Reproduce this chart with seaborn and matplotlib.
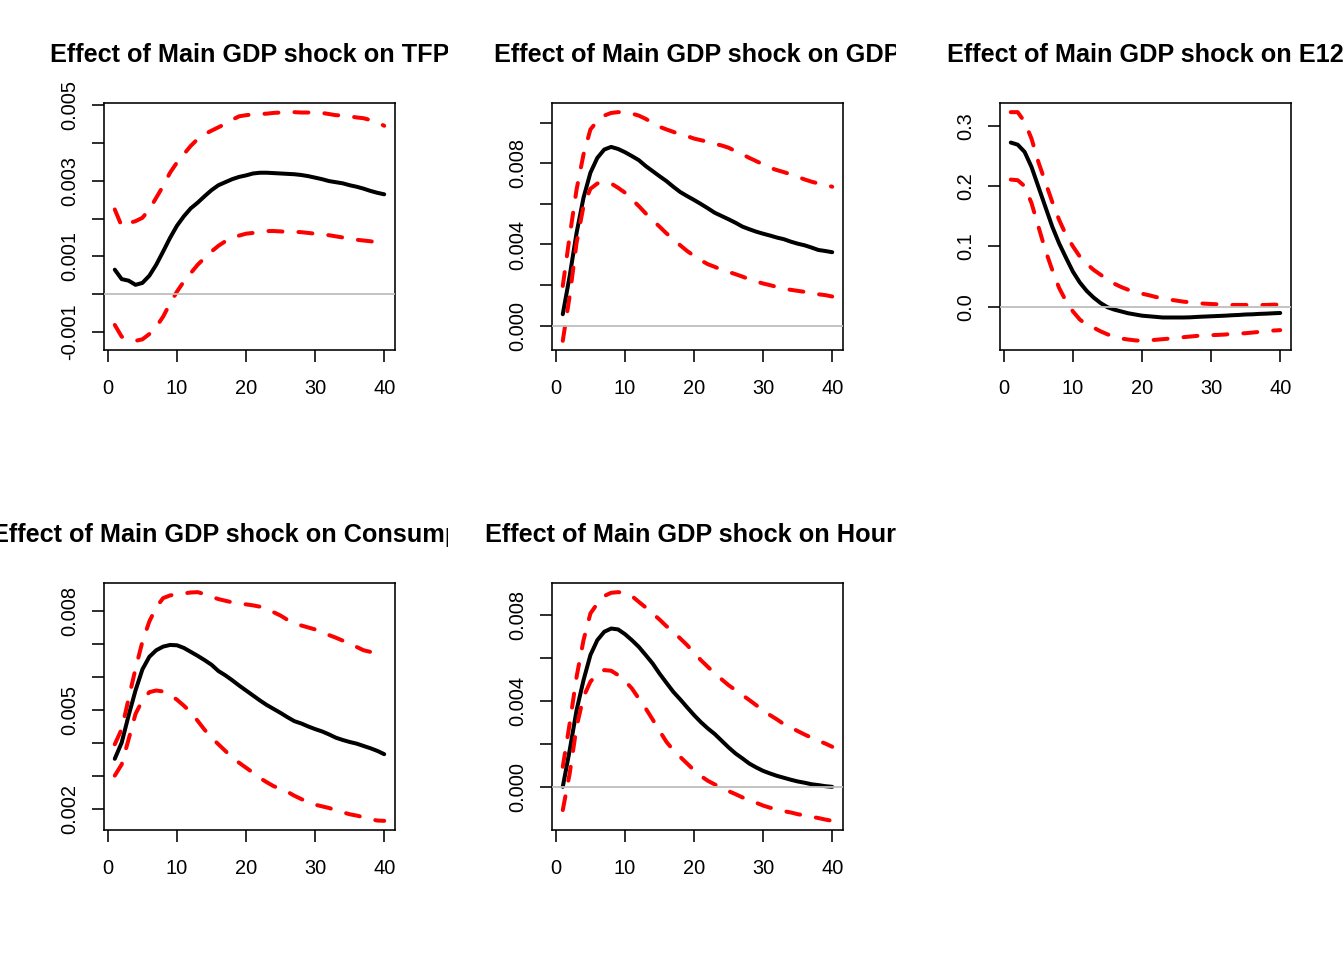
import matplotlib
matplotlib.use("Agg")
import matplotlib.pyplot as plt
from matplotlib.transforms import Bbox, TransformedBbox
import seaborn as sns

horizon = list(range(1, 41))

# TFP
tfp_mean = [0.00065, 0.00040, 0.00036, 0.00025, 0.00030, 0.00049, 0.00078, 0.00113, 0.00149, 0.00181,
            0.00206, 0.00227, 0.00242, 0.00259, 0.00275, 0.00288, 0.00296, 0.00304, 0.00310, 0.00314,
            0.00319, 0.00321, 0.00321, 0.00320, 0.00319, 0.00318, 0.00317, 0.00315, 0.00312, 0.00308,
            0.00304, 0.00299, 0.00296, 0.00293, 0.00288, 0.00284, 0.00279, 0.00273, 0.00268, 0.00264]
tfp_upper = [0.00224, 0.00180, 0.00188, 0.00193, 0.00202, 0.00224, 0.00255, 0.00286, 0.00321, 0.00348,
             0.00370, 0.00392, 0.00410, 0.00423, 0.00432, 0.00441, 0.00450, 0.00461, 0.00470, 0.00473,
             0.00475, 0.00476, 0.00477, 0.00479, 0.00480, 0.00480, 0.00481, 0.00480, 0.00480, 0.00480,
             0.00479, 0.00476, 0.00473, 0.00472, 0.00470, 0.00467, 0.00465, 0.00460, 0.00454, 0.00445]
tfp_lower = [-0.00081, -0.00112, -0.00121, -0.00123, -0.00119, -0.00105, -0.00086, -0.00059, -0.00024, 0.00007,
             0.00034, 0.00056, 0.00078, 0.00096, 0.00113, 0.00128, 0.00140, 0.00149, 0.00155, 0.00160,
             0.00162, 0.00165, 0.00167, 0.00167, 0.00166, 0.00165, 0.00165, 0.00164, 0.00162, 0.00160,
             0.00158, 0.00156, 0.00153, 0.00150, 0.00147, 0.00144, 0.00142, 0.00140, 0.00137, 0.00134]

# GDP
gdp_mean = [0.00057, 0.00245, 0.00458, 0.00630, 0.00753, 0.00826, 0.00867, 0.00880, 0.00870, 0.00854,
            0.00835, 0.00815, 0.00786, 0.00761, 0.00736, 0.00712, 0.00684, 0.00658, 0.00638, 0.00619,
            0.00599, 0.00578, 0.00556, 0.00540, 0.00524, 0.00507, 0.00488, 0.00475, 0.00463, 0.00453,
            0.00444, 0.00434, 0.00426, 0.00414, 0.00404, 0.00396, 0.00385, 0.00373, 0.00368, 0.00362]
gdp_upper = [0.00196, 0.00442, 0.00671, 0.00843, 0.00966, 0.01007, 0.01034, 0.01047, 0.01051, 0.01051,
             0.01044, 0.01034, 0.01018, 0.00998, 0.00979, 0.00966, 0.00954, 0.00941, 0.00933, 0.00921,
             0.00913, 0.00905, 0.00895, 0.00887, 0.00876, 0.00859, 0.00843, 0.00826, 0.00810, 0.00794,
             0.00777, 0.00766, 0.00756, 0.00745, 0.00733, 0.00720, 0.00709, 0.00700, 0.00694, 0.00684]
gdp_lower = [-0.00074, 0.00147, 0.00409, 0.00589, 0.00674, 0.00700, 0.00707, 0.00700, 0.00679, 0.00655,
             0.00622, 0.00589, 0.00553, 0.00520, 0.00488, 0.00455, 0.00426, 0.00396, 0.00368, 0.00344,
             0.00322, 0.00303, 0.00290, 0.00275, 0.00265, 0.00254, 0.00242, 0.00229, 0.00218, 0.00208,
             0.00200, 0.00191, 0.00183, 0.00177, 0.00172, 0.00167, 0.00160, 0.00155, 0.00151, 0.00144]

# E12
e12_mean = [0.2725, 0.269, 0.257, 0.232, 0.199, 0.166, 0.133, 0.105, 0.081, 0.058,
            0.040, 0.026, 0.015, 0.006, -0.001, -0.005, -0.008, -0.011, -0.013, -0.015,
            -0.016, -0.017, -0.018, -0.018, -0.018, -0.018, -0.0177, -0.017, -0.0165, -0.016,
            -0.0155, -0.015, -0.0143, -0.0138, -0.013, -0.0127, -0.012, -0.0116, -0.011, -0.0105]
e12_upper = [0.323, 0.323, 0.307, 0.279, 0.240, 0.207, 0.174, 0.144, 0.119, 0.100,
             0.083, 0.071, 0.061, 0.053, 0.045, 0.038, 0.0325, 0.028, 0.025, 0.0215,
             0.019, 0.016, 0.014, 0.0116, 0.010, 0.0083, 0.0072, 0.006, 0.005, 0.0044,
             0.0039, 0.0033, 0.0028, 0.0028, 0.0028, 0.0028, 0.0028, 0.0028, 0.0033, 0.0033]
e12_lower = [0.211, 0.210, 0.200, 0.172, 0.133, 0.094, 0.061, 0.031, 0.009, -0.008,
             -0.0215, -0.030, -0.035, -0.041, -0.046, -0.050, -0.053, -0.0546, -0.056, -0.0568,
             -0.056, -0.055, -0.054, -0.053, -0.052, -0.0507, -0.0496, -0.0485, -0.048, -0.0474,
             -0.0469, -0.0463, -0.0452, -0.0447, -0.0441, -0.043, -0.0419, -0.0408, -0.0397, -0.039]

# Consumption
cons_mean = [0.00352, 0.00401, 0.00483, 0.00559, 0.00623, 0.00661, 0.00681, 0.00692, 0.00697, 0.00696,
             0.00688, 0.00676, 0.00664, 0.00651, 0.00637, 0.00618, 0.00605, 0.00590, 0.00574, 0.00559,
             0.00544, 0.00529, 0.00515, 0.00503, 0.00491, 0.00478, 0.00466, 0.00459, 0.00450, 0.00442,
             0.00435, 0.00426, 0.00416, 0.00409, 0.00403, 0.00398, 0.00391, 0.00384, 0.00376, 0.00366]
cons_upper = [0.00396, 0.00442, 0.00534, 0.00625, 0.00707, 0.00768, 0.00811, 0.00839, 0.00847, 0.00851,
              0.00853, 0.00856, 0.00857, 0.00851, 0.00843, 0.00836, 0.00831, 0.00826, 0.00822, 0.00820,
              0.00817, 0.00813, 0.00807, 0.00796, 0.00786, 0.00773, 0.00763, 0.00756, 0.00750, 0.00744,
              0.00735, 0.00727, 0.00719, 0.00710, 0.00702, 0.00691, 0.00681, 0.00676, 0.00671, 0.00663]
cons_lower = [0.00301, 0.00335, 0.00411, 0.00488, 0.00529, 0.00554, 0.00559, 0.00556, 0.00546, 0.00531,
              0.00513, 0.00493, 0.00467, 0.00440, 0.00416, 0.00396, 0.00376, 0.00355, 0.00340, 0.00325,
              0.00310, 0.00294, 0.00281, 0.00269, 0.00261, 0.00252, 0.00240, 0.00230, 0.00220, 0.00213,
              0.00208, 0.00203, 0.00196, 0.00190, 0.00184, 0.00180, 0.00175, 0.00169, 0.00165, 0.00164]

# Hours
hours_mean = [0.00003, 0.00173, 0.00359, 0.00498, 0.00615, 0.00684, 0.00723, 0.00738, 0.00734, 0.00712,
              0.00684, 0.00653, 0.00615, 0.00576, 0.00529, 0.00486, 0.00444, 0.00409, 0.00372, 0.00336,
              0.00303, 0.00274, 0.00248, 0.00217, 0.00186, 0.00158, 0.00135, 0.00111, 0.00093, 0.00077,
              0.00065, 0.00054, 0.00045, 0.00036, 0.00028, 0.00022, 0.00015, 0.00011, 0.00006, 0.00003]
hours_upper = [0.00096, 0.00297, 0.00514, 0.00684, 0.00808, 0.00854, 0.00889, 0.00904, 0.00907, 0.00904,
               0.00889, 0.00862, 0.00836, 0.00808, 0.00780, 0.00749, 0.00723, 0.00692, 0.00661, 0.00625,
               0.00591, 0.00560, 0.00529, 0.00502, 0.00475, 0.00452, 0.00429, 0.00406, 0.00382, 0.00359,
               0.00336, 0.00316, 0.00294, 0.00279, 0.00262, 0.00246, 0.00231, 0.00217, 0.00204, 0.00189]
hours_lower = [-0.00105, 0.00065, 0.00282, 0.00421, 0.00491, 0.00529, 0.00545, 0.00542, 0.00522, 0.00495,
               0.00460, 0.00413, 0.00367, 0.00316, 0.00263, 0.00212, 0.00173, 0.00142, 0.00111, 0.00080,
               0.00053, 0.00031, 0.00014, -0.00002, -0.00017, -0.00031, -0.00046, -0.00059, -0.00071, -0.00084,
               -0.00094, -0.00102, -0.00110, -0.00116, -0.00124, -0.00130, -0.00136, -0.00142, -0.00149, -0.00155]

titles = ["Effect of Main GDP shock on TFP",
          "Effect of Main GDP shock on GDP",
          "Effect of Main GDP shock on E12",
          "Effect of Main GDP shock on Consumption",
          "Effect of Main GDP shock on Hours"]

x_ticks = [0, 10, 20, 30, 40]
tfp_yticks = [-0.001, 0.0, 0.001, 0.002, 0.003, 0.004, 0.005]
tfp_ylabels = ["-0.001", "", "0.001", "", "0.003", "", "0.005"]
gdp_yticks = [0.0, 0.002, 0.004, 0.006, 0.008, 0.010]
gdp_ylabels = ["0.000", "", "0.004", "", "0.008", ""]
e12_yticks = [0.0, 0.1, 0.2, 0.3]
e12_ylabels = ["0.0", "0.1", "0.2", "0.3"]
cons_yticks = [0.002, 0.003, 0.004, 0.005, 0.006, 0.007, 0.008]
cons_ylabels = ["0.002", "", "", "0.005", "", "", "0.008"]
hours_yticks = [0.0, 0.002, 0.004, 0.006, 0.008]
hours_ylabels = ["0.000", "", "0.004", "", "0.008"]

panels = [
    (tfp_mean, tfp_lower, tfp_upper, tfp_yticks, tfp_ylabels),
    (gdp_mean, gdp_lower, gdp_upper, gdp_yticks, gdp_ylabels),
    (e12_mean, e12_lower, e12_upper, e12_yticks, e12_ylabels),
    (cons_mean, cons_lower, cons_upper, cons_yticks, cons_ylabels),
    (hours_mean, hours_lower, hours_upper, hours_yticks, hours_ylabels),
]

sns.set_style("ticks")
plt.rcParams["font.family"] = ["Liberation Sans", "DejaVu Sans"]
plt.rcParams["text.color"] = "black"

W, H = 1344, 960
fig = plt.figure(figsize=(W / 144, H / 144), dpi=144)

# plot boxes in pixels (left, right) per column and (top, bottom) per row
col_px = [(104, 395), (552, 843), (1000, 1291)]
row_px = [(103, 350), (583, 830)]
title_base = [62, 542]
dash = (0, (3.5, 4))

for i, (mean, lower, upper, yt, yl) in enumerate(panels):
    r, c = divmod(i, 3)
    x0, x1 = col_px[c]
    t0, t1 = row_px[r]
    ax = fig.add_axes([x0 / W, 1 - t1 / H, (x1 - x0) / W, (t1 - t0) / H])

    sns.lineplot(x=horizon, y=mean, color="black", linewidth=2.0, ax=ax)
    sns.lineplot(x=horizon, y=upper, color="red", linewidth=2.0,
                 linestyle=dash, dash_capstyle="round", ax=ax)
    sns.lineplot(x=horizon, y=lower, color="red", linewidth=2.0,
                 linestyle=dash, dash_capstyle="round", ax=ax)
    ax.axhline(0, color="#bebebe", linewidth=0.9, zorder=5)

    lo = min(mean + lower + upper)
    hi = max(mean + lower + upper)
    pad = 0.04 * (hi - lo)
    ax.set_ylim(lo - pad, hi + pad)
    ax.set_xlim(1 - 0.04 * 39, 40 + 0.04 * 39)

    ax.set_xticks(x_ticks)
    ax.set_xticklabels([str(v) for v in x_ticks])
    ax.set_yticks(yt)
    ax.set_yticklabels(yl)
    ax.set_xlabel("")
    ax.set_ylabel("")
    for s in ax.spines.values():
        s.set_visible(True)
        s.set_color("black")
        s.set_linewidth(0.8)
    ax.tick_params(direction="out", length=6, width=0.8, color="black",
                   labelsize=10, labelcolor="black")
    ax.tick_params(axis="x", pad=8.5)
    ax.tick_params(axis="y", pad=6.5, labelrotation=90)
    for lab in ax.get_yticklabels():
        lab.set_va("center")
        lab.set_ha("right")

    # title, clipped to this panel's figure region like base R
    cx = (x0 + x1) / 2 / W
    ty = 1 - title_base[r] / H
    t = fig.text(cx, ty, titles[i], ha="center", va="baseline",
                 fontsize=12.6, fontweight="bold", color="black")
    region = Bbox.from_extents(c * 448 / W, 1 - (r + 1) * 480 / H,
                               (c + 1) * 448 / W, 1 - r * 480 / H)
    t.set_clip_box(TransformedBbox(region, fig.transFigure))
    t.set_clip_on(True)

fig.savefig("out.png", dpi=144)
